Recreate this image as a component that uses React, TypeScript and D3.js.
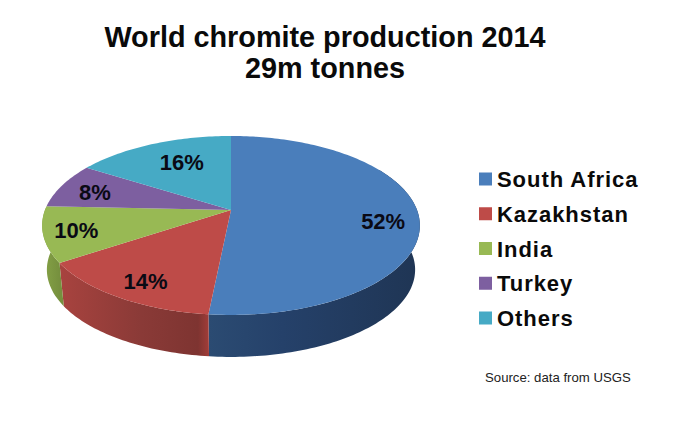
import React from 'react';
import * as d3 from 'd3';

const categories = ['South Africa', 'Kazakhstan', 'India', 'Turkey', 'Others'];
const shares = [51.6, 14.1, 10, 8.2, 16.1];
const colors = ['#4a7ebb', '#be4b48', '#98b954', '#7d5fa0', '#46aac5'];
const titleLines = ['World chromite production 2014', '29m tonnes'];
const source = 'Source: data from USGS';

const width = 673;
const height = 426;

// tilted disc: k is the perspective strength, the apex sits above the ellipse centre
const cx = 231;
const cy = 210;
const rx = 186;
const ry = 86.8;
const k = 0.173;
const wallScale = 0.975;
const wallDrop = 44.6;

const project = (theta: number, f = 1): [number, number] => {
  const u = Math.sin(theta) * f;
  const v = -Math.cos(theta) * f;
  const d = 1 - k * v;
  return [cx + (rx * u) / d, cy + (ry * v) / d];
};

const lower = ([x, y]: [number, number]): [number, number] => [
  cx + (x - cx) * wallScale,
  cy + wallDrop + (y - cy) * wallScale
];

const arcPoints = (a0: number, a1: number) => {
  const n = Math.max(2, Math.ceil(Math.abs(a1 - a0) / 0.02));
  return d3.range(n + 1).map(i => project(a0 + ((a1 - a0) * i) / n));
};

const line = d3.line();

const pie = d3.pie<number>().sort(null).value(d => d);
const color = d3.scaleOrdinal<string, string>().domain(categories).range(colors);
const legendY = d3.scalePoint<string>().domain(categories).range([179, 318]);

// the wall is only visible on the front of the disc
const wallFrom = (60 * Math.PI) / 180;
const wallTo = (300 * Math.PI) / 180;

// how far out each percentage sits, as a fraction of the radius
const labelRadius = [0.81, 0.82, 0.83, 0.79, 0.68];
const labelTurn = [0.1, -0.03, 0, -0.02, 0.06];

// wall shading, left to right on screen
const wallStops: [number, string][][] = [
  [[0, '#2b4b72'], [0.35, '#25416a'], [1, '#1f3554']],
  [[0, '#a8433f'], [0.55, '#8a3a37'], [0.93, '#7e3431'], [1, '#a03c38']],
  [[0, '#86a347'], [1, '#76903e']]
];

export default function App() {
  const arcs = pie(shares);

  return (
    <svg
      width={width}
      height={height}
      style={{ position: 'absolute', left: 0, top: 0, background: '#fff', fontFamily: '"Liberation Sans", Arial, sans-serif' }}
    >
      <defs>
        {wallStops.map((stops, i) => {
          const xs = arcPoints(Math.max(arcs[i].startAngle, wallFrom), Math.min(arcs[i].endAngle, wallTo)).map(p => p[0]);
          return (
            <linearGradient key={i} id={`wall-${i}`} gradientUnits="userSpaceOnUse" x1={d3.min(xs)} x2={d3.max(xs)} y1={0} y2={0}>
              {stops.map(([o, col]) => (
                <stop key={o} offset={o} stopColor={col} />
              ))}
            </linearGradient>
          );
        })}
      </defs>

      {titleLines.map((t, i) => (
        <text key={t} x={325} y={47 + i * 31} textAnchor="middle" fontSize={28.8} fontWeight="bold" fill="#0a0a0a">
          {t}
        </text>
      ))}

      {arcs.map((a, i) => {
        const from = Math.max(a.startAngle, wallFrom);
        const to = Math.min(a.endAngle, wallTo);
        if (to <= from) return null;
        const top = arcPoints(from, to);
        const bottom = top.map(lower).reverse();
        return <path key={i} d={`${line([...top, ...bottom])}Z`} fill={`url(#wall-${i})`} />;
      })}

      {arcs.map((a, i) => (
        <path
          key={i}
          d={`${line([[cx, cy], ...arcPoints(a.startAngle, a.endAngle)])}Z`}
          fill={color(categories[i])}
        />
      ))}

      {arcs.map((a, i) => {
        const [x, y] = project((a.startAngle + a.endAngle) / 2 + labelTurn[i], labelRadius[i]);
        return (
          <text key={i} x={x} y={y + 8} textAnchor="middle" fontSize={22} fontWeight="bold" fill="#0a0a14">
            {d3.format('.0f')(a.value)}%
          </text>
        );
      })}

      {categories.map(c => (
        <g key={c}>
          <rect x={479} y={legendY(c)! - 6.5} width={13} height={13} fill={color(c)} />
          <text x={497} y={legendY(c)! + 8} fontSize={22} fontWeight="bold" fill="#0a0a0a" letterSpacing={0.95}>
            {c}
          </text>
        </g>
      ))}

      <text x={485} y={382} fontSize={13.2} fill="#222">
        {source}
      </text>
    </svg>
  );
}
